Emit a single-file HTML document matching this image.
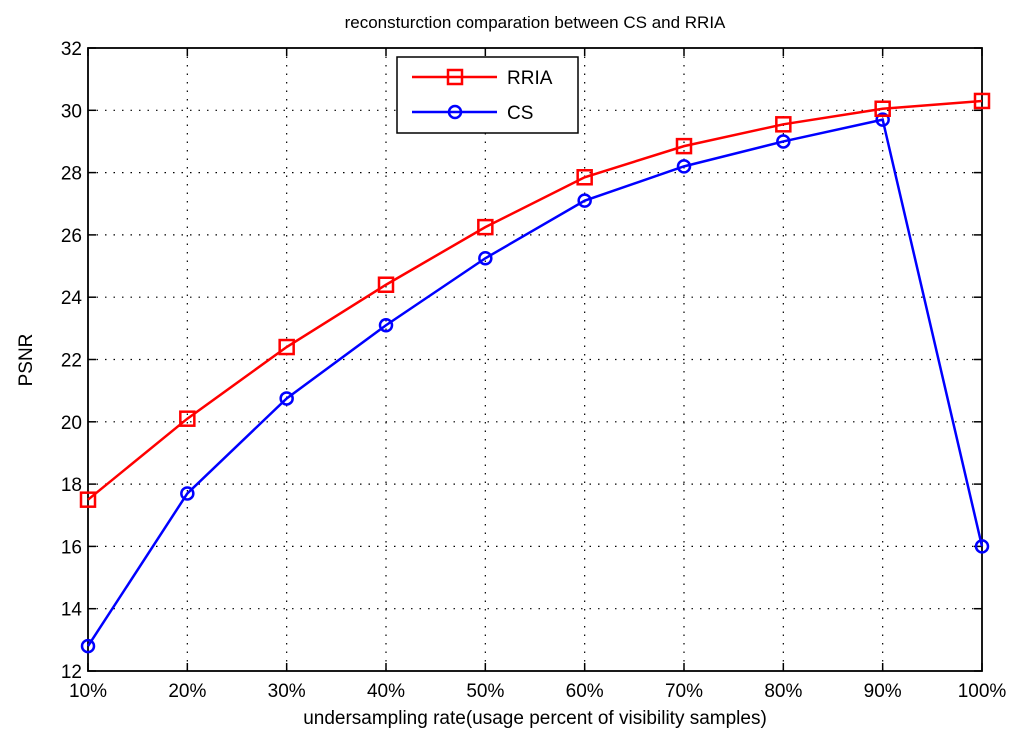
<!DOCTYPE html>
<html><head><meta charset="utf-8"><style>
body{margin:0;background:#fff;}
svg{display:block;font-family:"Liberation Sans",sans-serif;}
</style></head><body>
<svg width="1024" height="748">
<g id="grid"></g>
<g id="axes"></g>
<g id="series"></g>
<text x="535" y="28" font-size="17" text-anchor="middle">reconsturction comparation between CS and RRIA</text>
<text x="535" y="724" font-size="19" text-anchor="middle">undersampling rate(usage percent of visibility samples)</text>
<text transform="translate(32,360) rotate(-90)" font-size="19" text-anchor="middle">PSNR</text>
<g>
<rect x="397" y="57" width="181" height="76" fill="#fff" stroke="#000" stroke-width="1.5"/>
<g>
<line x1="412" y1="77" x2="497" y2="77" stroke="#f00" stroke-width="2.5"/>
<rect x="448" y="70" width="14" height="14" fill="none" stroke="#f00" stroke-width="2.5"/>
<text x="507" y="84" font-size="19">RRIA</text></g>
<g>
<line x1="412" y1="112" x2="497" y2="112" stroke="#00f" stroke-width="2.5"/>
<circle cx="455" cy="112" r="6" fill="none" stroke="#00f" stroke-width="2.5"/>
<text x="507" y="119" font-size="19">CS</text></g>
</g>
</svg>
<script>
const categories=["10%","20%","30%","40%","50%","60%","70%","80%","90%","100%"];
const rria=[17.5,20.1,22.4,24.4,26.25,27.85,28.85,29.55,30.05,30.3];
const cs=[12.8,17.7,20.75,23.1,25.25,27.1,28.2,29.0,29.7,16.0];
const yTicks=[12,14,16,18,20,22,24,26,28,30,32];
const L=88,R=982,T=48,B=671,yMin=12,yMax=32;
const NS="http://www.w3.org/2000/svg";
function xs(i){return L+(R-L)*i/(categories.length-1);}
function ys(v){return B-(v-yMin)/(yMax-yMin)*(B-T);}
function mk(tag,attrs,parent){const e=document.createElementNS(NS,tag);for(const k in attrs)e.setAttribute(k,attrs[k]);parent.appendChild(e);return e;}
const grid=document.getElementById('grid'),axes=document.getElementById('axes'),ser=document.getElementById('series');
categories.forEach((c,i)=>{const x=xs(i);
 if(i>0&&i<categories.length-1){const g=mk('line',{x1:x,x2:x,y1:T,y2:B,stroke:'#000','stroke-width':1.2,'stroke-dasharray':'1.5 7'},grid);
 
 }
 mk('line',{x1:x,x2:x,y1:B,y2:B-8,stroke:'#000','stroke-width':1.5},axes);
 mk('line',{x1:x,x2:x,y1:T,y2:T+8,stroke:'#000','stroke-width':1.5},axes);
 const t=mk('text',{x:x,y:B+26,'font-size':19,'text-anchor':'middle'},axes);t.textContent=c;
 
 
});
yTicks.forEach(v=>{const y=ys(v);
 if(v>yMin&&v<yMax){const g=mk('line',{x1:L,x2:R,y1:y,y2:y,stroke:'#000','stroke-width':1.2,'stroke-dasharray':'1.5 7'},grid);
 
 }
 mk('line',{x1:L,x2:L+8,y1:y,y2:y,stroke:'#000','stroke-width':1.5},axes);
 mk('line',{x1:R,x2:R-8,y1:y,y2:y,stroke:'#000','stroke-width':1.5},axes);
 const t=mk('text',{x:L-6,y:y+7,'font-size':19,'text-anchor':'end'},axes);t.textContent=v;
 
 
});
mk('rect',{x:L,y:T,width:R-L,height:B-T,fill:'none',stroke:'#000','stroke-width':1.8},axes);
function draw(data,color,marker,name){
 const p=mk('polyline',{points:data.map((v,i)=>xs(i)+','+ys(v)).join(' '),fill:'none',stroke:color,'stroke-width':2.5},ser);
 
 
 data.forEach((v,i)=>{let m;
  if(marker==='sq')m=mk('rect',{x:xs(i)-7,y:ys(v)-7,width:14,height:14,fill:'none',stroke:color,'stroke-width':2.5},ser);
  else m=mk('circle',{cx:xs(i),cy:ys(v),r:6,fill:'none',stroke:color,'stroke-width':2.5},ser);
  
  
 });
}
draw(cs,'#00f','o','cs');
draw(rria,'#f00','sq','rria');
</script>
</body></html>
